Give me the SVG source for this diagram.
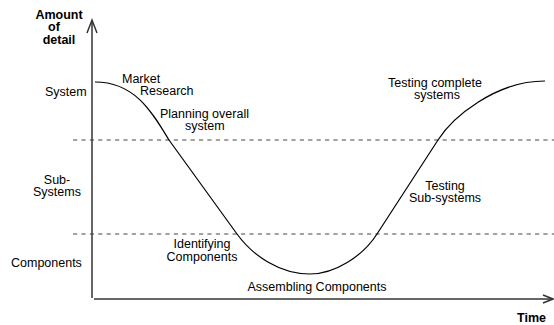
<svg xmlns="http://www.w3.org/2000/svg" width="554" height="325" viewBox="0 0 554 325">
<style>
text{font-family:"Liberation Sans",Arial,sans-serif;font-size:12.5px;fill:#000}
.b{font-weight:bold}
.dash{stroke:#444;stroke-width:1;stroke-dasharray:4.2 4.2;fill:none}
.axis{stroke:#333;stroke-width:1.5;fill:none}
.curve{stroke:#000;stroke-width:1.2;fill:none}
</style>
<rect width="554" height="325" fill="#fff"/>
<g id="guides">
<line class="dash" x1="73" y1="140" x2="554" y2="140"/>
<line class="dash" x1="73" y1="234" x2="554" y2="234"/>
</g>
<g id="connectors">
<line class="axis" x1="92" y1="21" x2="92" y2="298"/>
<polyline class="axis" points="87,33 92,20 97,33"/>
<line class="axis" x1="94" y1="299" x2="552" y2="299"/>
<polyline class="axis" points="543,295 553,299 543,303"/>
<path class="curve" d="M95,82 C135,82 152,112 169,140 L237,234 C253,256 280,274 310,274 C335,274 363,256 377,234 L438,140 C452,118 495,81 545,81"/>
</g>
<g id="axis-y-label"><text class="b" x="59" y="19" text-anchor="middle">Amount</text><text class="b" x="54" y="31" text-anchor="middle">of</text><text class="b" x="59" y="44" text-anchor="middle">detail</text></g>
<g id="axis-x-label"><text class="b" x="517" y="322">Time</text></g>
<g id="level-system"><text x="45" y="96">System</text></g>
<g id="level-subsystems"><text x="57" y="184" text-anchor="middle">Sub-</text><text x="57" y="196" text-anchor="middle">Systems</text></g>
<g id="level-components"><text x="11" y="267">Components</text></g>
<g id="market-research"><text x="122" y="83">Market</text><text x="140" y="95">Research</text></g>
<g id="planning"><text x="160" y="118">Planning overall</text><text x="185" y="130">system</text></g>
<g id="identifying"><text x="202" y="248" text-anchor="middle">Identifying</text><text x="202" y="261" text-anchor="middle">Components</text></g>
<g id="assembling"><text x="317" y="291" text-anchor="middle">Assembling Components</text></g>
<g id="testing-sub"><text x="445" y="190" text-anchor="middle">Testing</text><text x="445" y="202" text-anchor="middle">Sub-systems</text></g>
<g id="testing-complete"><text x="435" y="87" text-anchor="middle">Testing complete</text><text x="437" y="99" text-anchor="middle">systems</text></g>
</svg>
